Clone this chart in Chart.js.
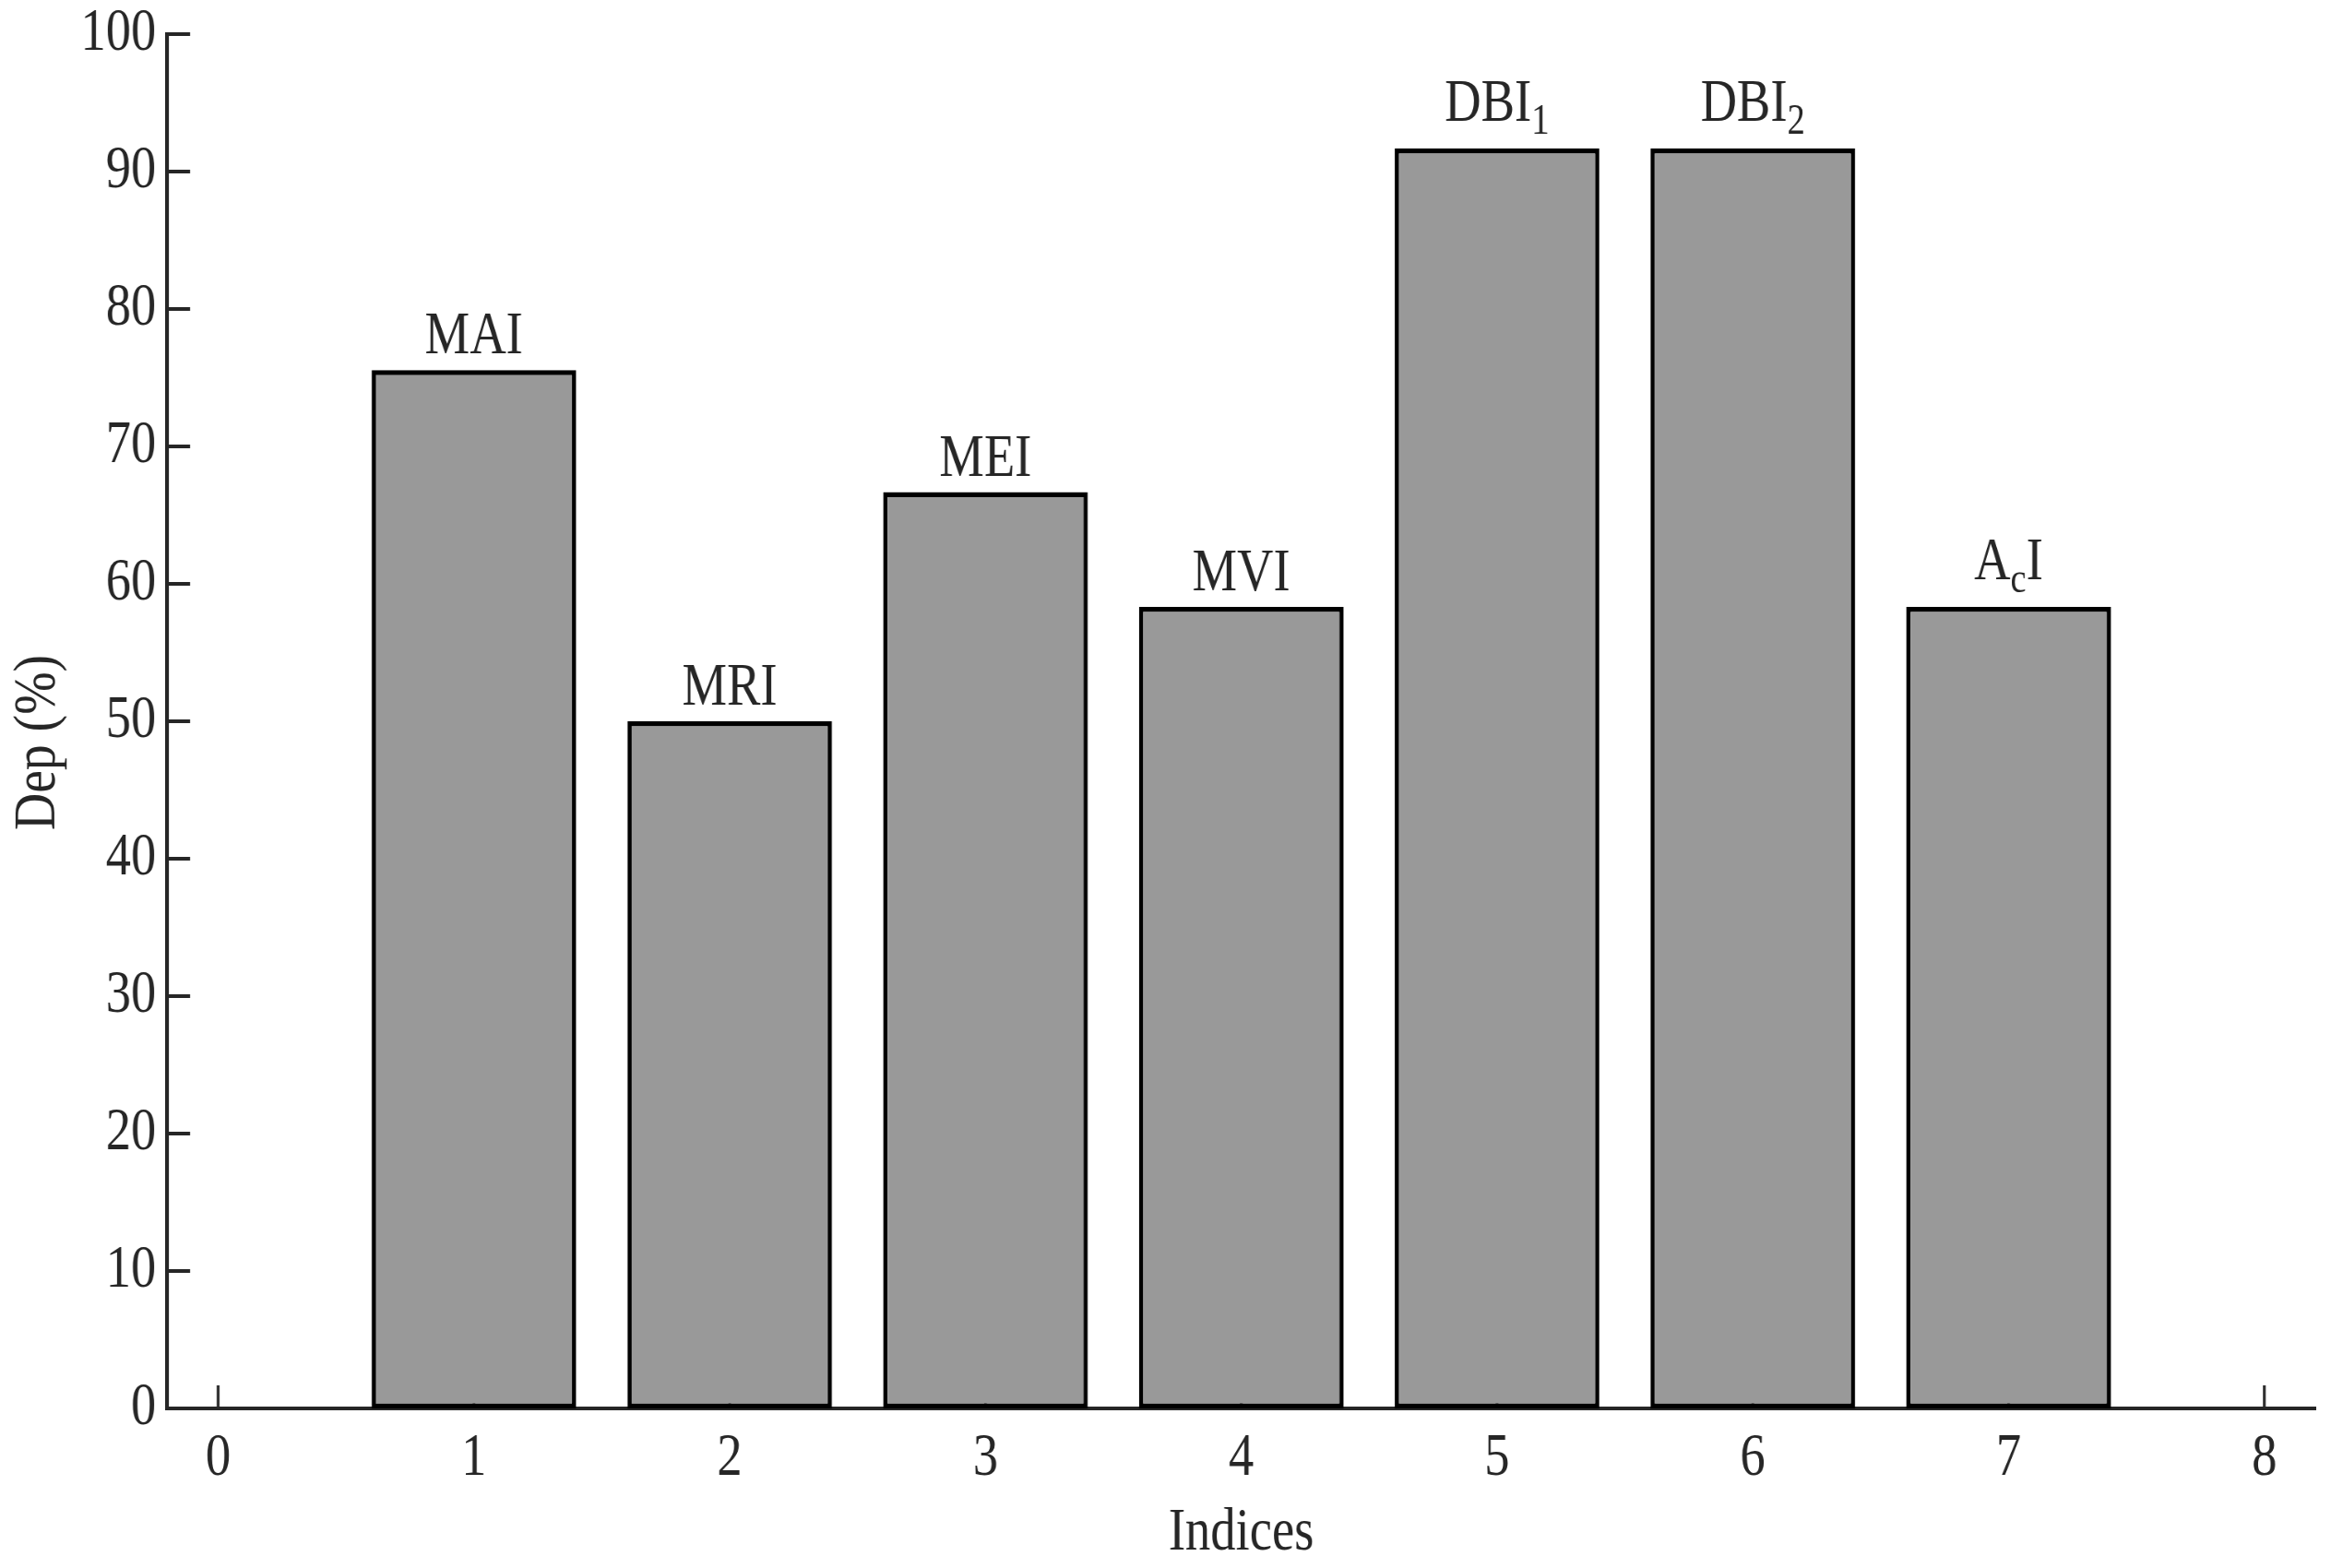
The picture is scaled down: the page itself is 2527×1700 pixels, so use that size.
<!DOCTYPE html>
<html>
<head>
<meta charset="utf-8">
<script src="https://cdn.jsdelivr.net/npm/chart.js@4.4.1/dist/chart.umd.min.js"></script>
<style>
  html, body { margin: 0; padding: 0; background: #fff; overflow: hidden; }
  #chart { display: block; }
</style>
</head>
<body>
<!-- canvas drawn wider and squeezed by css: the reference uses a condensed serif -->
<canvas id="chart" width="3008" height="1700" style="width:2527px;height:1700px"></canvas>
<script>
// data
const indices = [1, 2, 3, 4, 5, 6, 7];
const depValues = [75.56, 50, 66.67, 58.33, 91.67, 91.67, 58.33];
const barNames = ["MAI", "MRI", "MEI", "MVI", "DBI_1", "DBI_2", "A_cI"];
const xTicks = [0, 1, 2, 3, 4, 5, 6, 7, 8];
const yTicks = [0, 10, 20, 30, 40, 50, 60, 70, 80, 90, 100];

const SX = 2527 / 3008;
const axisColor = "#262626";
const serif = "'Liberation Serif', 'Times New Roman', serif";

// "DBI_1" -> DBI + subscript 1
function splitLabel(s) {
    const parts = [];
    let buf = "";
    for (let i = 0; i < s.length; i++) {
        if (s[i] === "_") {
            if (buf) parts.push({ t: buf, sub: false });
            buf = "";
            parts.push({ t: s[i + 1], sub: true });
            i++;
        } else {
            buf += s[i];
        }
    }
    if (buf) parts.push({ t: buf, sub: false });
    return parts;
}

// tick marks pointing into the plot, drawn under the bars
const inwardTicks = {
    id: "inwardTicks",
    beforeDatasetsDraw(chart) {
        const { ctx, scales: { x, y } } = chart;
        ctx.save();
        ctx.strokeStyle = axisColor;
        ctx.lineWidth = 4;
        yTicks.forEach((v) => {
            const py = y.getPixelForValue(v);
            ctx.beginPath();
            ctx.moveTo(x.left, py);
            ctx.lineTo(x.left + 25 / SX, py);
            ctx.stroke();
        });
        ctx.lineWidth = 3.5;
        xTicks.forEach((v) => {
            const px = x.getPixelForValue(v);
            ctx.beginPath();
            ctx.moveTo(px, y.bottom);
            ctx.lineTo(px, y.bottom - 25);
            ctx.stroke();
        });
        ctx.restore();
    }
};

// names above the bars
const barLabels = {
    id: "barLabels",
    afterDatasetsDraw(chart) {
        const ctx = chart.ctx;
        const meta = chart.getDatasetMeta(0);
        const mainFont = "65px " + serif;
        const subFont = "46px " + serif;
        ctx.save();
        ctx.fillStyle = axisColor;
        ctx.textAlign = "left";
        ctx.textBaseline = "alphabetic";
        meta.data.forEach((bar, i) => {
            const parts = splitLabel(barNames[i]);
            const hasSub = parts.some((p) => p.sub);
            const base = bar.y - 18 - (hasSub ? 12 : 0);
            let total = 0;
            parts.forEach((p) => {
                ctx.font = p.sub ? subFont : mainFont;
                p.w = ctx.measureText(p.t).width;
                total += p.w;
            });
            let cx = bar.x - total / 2;
            parts.forEach((p) => {
                ctx.font = p.sub ? subFont : mainFont;
                ctx.fillText(p.t, cx, p.sub ? base + 14 : base);
                cx += p.w;
            });
        });
        ctx.restore();
    }
};

// axis titles
const axisTitles = {
    id: "axisTitles",
    afterDraw(chart) {
        const { ctx, chartArea } = chart;
        ctx.save();
        ctx.fillStyle = axisColor;
        ctx.font = "65px " + serif;
        ctx.textAlign = "center";
        ctx.textBaseline = "alphabetic";
        ctx.fillText("Indices", (chartArea.left + chartArea.right) / 2, 1680);

        ctx.translate(59 / SX, 805);
        ctx.rotate(-Math.PI / 2);
        ctx.scale(0.87, 1 / SX);
        ctx.font = "64px " + serif;
        ctx.fillText("Dep (%)", 0, 0);
        ctx.restore();
    }
};

const tickFont = { family: serif, size: 65, lineHeight: 1 };

new Chart(document.getElementById("chart"), {
    type: "bar",
    data: {
        datasets: [{
            data: indices.map((x, i) => ({ x: x, y: depValues[i] })),
            backgroundColor: "#999999",
            borderColor: "#000000",
            borderWidth: 5.5,
            borderSkipped: false,
            barPercentage: 0.8,
            categoryPercentage: 1
        }]
    },
    options: {
        responsive: false,
        animation: false,
        devicePixelRatio: 1,
        layout: { padding: { left: 0, right: 20, top: 37, bottom: 0 } },
        plugins: {
            legend: { display: false },
            tooltip: { enabled: false }
        },
        scales: {
            x: {
                type: "linear",
                offset: false,
                min: -0.2,
                max: 8.2,
                grid: { display: false, drawTicks: false },
                border: { display: true, color: axisColor, width: 4 },
                ticks: { color: axisColor, font: tickFont, padding: 22, maxRotation: 0 },
                afterBuildTicks: (s) => { s.ticks = xTicks.map((v) => ({ value: v })); },
                afterFit: (s) => {
                    s.height = 173;
                    s.paddingLeft = 0;
                    s.paddingRight = 0;
                }
            },
            y: {
                min: 0,
                max: 100,
                grid: { display: false, drawTicks: false },
                border: { display: true, color: axisColor, width: 5 },
                ticks: { color: axisColor, font: tickFont, padding: 14 },
                afterBuildTicks: (s) => { s.ticks = yTicks.map((v) => ({ value: v })); },
                afterFit: (s) => {
                    s.width = 181 / SX;
                    s.paddingTop = 0;
                    s.paddingBottom = 0;
                }
            }
        }
    },
    plugins: [inwardTicks, barLabels, axisTitles]
});
</script>
</body>
</html>
